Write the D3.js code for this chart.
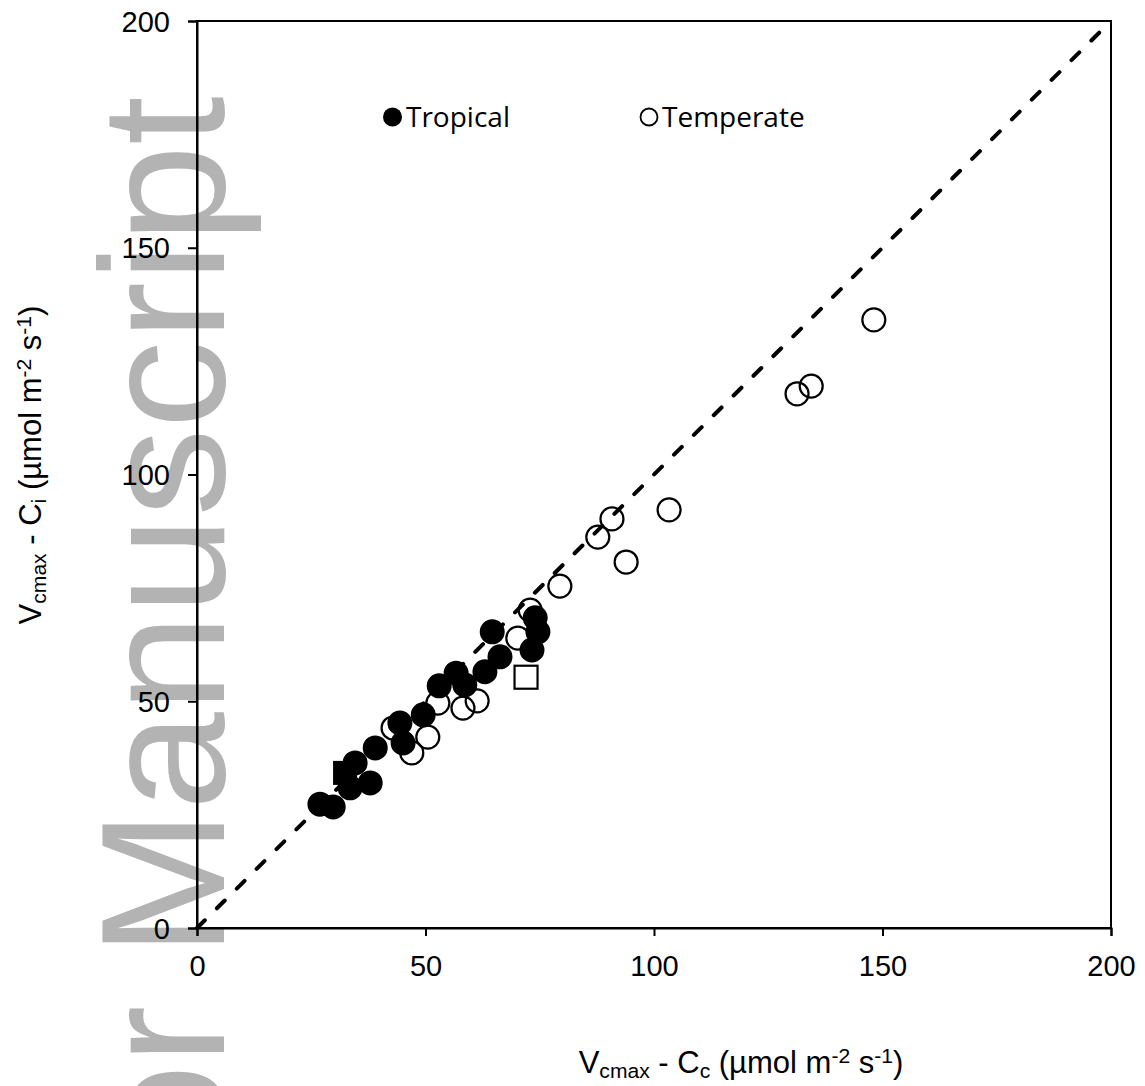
<!DOCTYPE html>
<html><head><meta charset="utf-8">
<script src="https://cdn.jsdelivr.net/npm/d3@7"></script>
<style>body{margin:0;background:#fff}svg{display:block}</style>
</head><body>
<svg id="c" width="1145" height="1086"></svg>
<script>
// Data (x = Vcmax - Cc, y = Vcmax - Ci)
const tropicalX = [26.9, 29.8, 33.5, 37.9, 34.6, 39.0, 45.1, 44.4, 49.5, 53.0, 58.6, 56.7, 63.0, 66.3, 64.6, 73.3, 74.6, 74.0];
const tropicalY = [27.3, 26.7, 30.9, 32.0, 36.4, 39.7, 40.8, 45.2, 47.0, 53.4, 53.6, 56.2, 56.5, 59.8, 65.3, 61.3, 65.3, 68.4];
const temperateX = [42.9, 47.0, 50.5, 52.7, 58.2, 61.3, 70.2, 72.9, 79.4, 87.7, 90.8, 93.9, 103.3, 131.3, 134.4, 148.1];
const temperateY = [44.1, 38.6, 42.1, 49.6, 48.5, 50.1, 63.9, 70.1, 75.4, 86.2, 90.2, 80.7, 92.2, 117.8, 119.5, 134.1];
const tropicalSqX = [32.4], tropicalSqY = [34.2];
const temperateSqX = [72.0], temperateSqY = [55.3];
const xTicks = [0, 50, 100, 150, 200];
const yTicks = [0, 50, 100, 150, 200];
const legendLabels = ["Tropical", "Temperate"];

const svg = d3.select("#c");
const x = d3.scaleLinear().domain([0, 200]).range([197, 1111]);
const y = d3.scaleLinear().domain([0, 200]).range([928, 21]);

// watermark
svg.append("text")
  .attr("transform", "translate(224,96) rotate(-90)")
  .attr("text-anchor", "end")
  .attr("font-family", "Liberation Sans, Arial, sans-serif")
  .attr("font-size", 176)
  .attr("fill", "#b3b3b3")
  .text("Author Manuscript");

const axisFont = "Liberation Sans, Arial, sans-serif";

// box
svg.append("rect").attr("x", x(0)).attr("y", y(200)).attr("width", x(200) - x(0)).attr("height", y(0) - y(200))
  .attr("fill", "none").attr("stroke", "#000").attr("stroke-width", 2);

// axes
const xAxis = d3.axisBottom(x).tickValues(xTicks).tickSize(8).tickPadding(19).tickFormat(d3.format("d"));
const yAxis = d3.axisLeft(y).tickValues(yTicks).tickSize(9).tickPadding(18).tickFormat(d3.format("d"));
const gx = svg.append("g").attr("transform", `translate(0,${y(0)})`).call(xAxis);
const gy = svg.append("g").attr("transform", `translate(${x(0)},0)`).call(yAxis);
[gx, gy].forEach(a => {
  a.select(".domain").attr("stroke", "#000").attr("stroke-width", 2);
  a.selectAll(".tick line").attr("stroke", "#000").attr("stroke-width", 2);
  a.selectAll(".tick text").attr("font-family", axisFont).attr("font-size", 29).attr("fill", "#000");
});
gy.selectAll(".tick text").attr("dy", "0.35em");

// temperate open circles
svg.append("g").selectAll("circle").data(temperateX.map((d, i) => [d, temperateY[i]])).join("circle")
  .attr("cx", d => x(d[0])).attr("cy", d => y(d[1])).attr("r", 11.5)
  .attr("fill", "none").attr("stroke", "#000").attr("stroke-width", 2.2);

// 1:1 line
svg.append("line").attr("x1", x(0)).attr("y1", y(0)).attr("x2", x(200)).attr("y2", y(200))
  .attr("stroke", "#000").attr("stroke-width", 4).attr("stroke-dasharray", "11,17").attr("stroke-linecap", "round");

// temperate open square
svg.append("g").selectAll("rect").data(temperateSqX.map((d, i) => [d, temperateSqY[i]])).join("rect")
  .attr("x", d => x(d[0]) - 11.5).attr("y", d => y(d[1]) - 11.5).attr("width", 23).attr("height", 23)
  .attr("fill", "#fff").attr("stroke", "#000").attr("stroke-width", 2.2);

// tropical filled square
svg.append("g").selectAll("rect").data(tropicalSqX.map((d, i) => [d, tropicalSqY[i]])).join("rect")
  .attr("x", d => x(d[0]) - 11).attr("y", d => y(d[1]) - 11).attr("width", 22).attr("height", 22)
  .attr("fill", "#000").attr("stroke", "#000").attr("stroke-width", 2);

// tropical filled circles
svg.append("g").selectAll("circle").data(tropicalX.map((d, i) => [d, tropicalY[i]])).join("circle")
  .attr("cx", d => x(d[0])).attr("cy", d => y(d[1])).attr("r", 11.5)
  .attr("fill", "#000").attr("stroke", "#000").attr("stroke-width", 2);

// legend
const legFont = "Open Sans, Noto Sans, sans-serif";
svg.append("circle").attr("cx", 392.5).attr("cy", 117).attr("r", 9.5).attr("fill", "#000");
svg.append("text").attr("x", 406).attr("y", 127).attr("font-family", legFont).attr("font-size", 28).text(legendLabels[0]);
svg.append("circle").attr("cx", 649).attr("cy", 117).attr("r", 8.5).attr("fill", "none").attr("stroke", "#000").attr("stroke-width", 1.8);
svg.append("text").attr("x", 662).attr("y", 127).attr("font-family", legFont).attr("font-size", 28).text(legendLabels[1]);

// axis labels
function label(sel, parts) {
  parts.forEach(p => {
    const t = sel.append("tspan").text(p[0]);
    if (p[1] === "sub") t.attr("font-size", "0.68em").attr("baseline-shift", "-22%");
    if (p[1] === "sup") t.attr("font-size", "0.68em").attr("baseline-shift", "48%");
  });
}
const xl = svg.append("text").attr("x", 741).attr("y", 1073).attr("text-anchor", "middle")
  .attr("font-family", axisFont).attr("font-size", 31);
label(xl, [["V"], ["cmax", "sub"], [" - C"], ["c", "sub"], [" (µmol m"], ["-2", "sup"], [" s"], ["-1", "sup"], [")"]]);
const yl = svg.append("text").attr("transform", "translate(41,465) rotate(-90)").attr("text-anchor", "middle")
  .attr("font-family", axisFont).attr("font-size", 31);
label(yl, [["V"], ["cmax", "sub"], [" - C"], ["i", "sub"], [" (µmol m"], ["-2", "sup"], [" s"], ["-1", "sup"], [")"]]);
</script>
</body></html>
